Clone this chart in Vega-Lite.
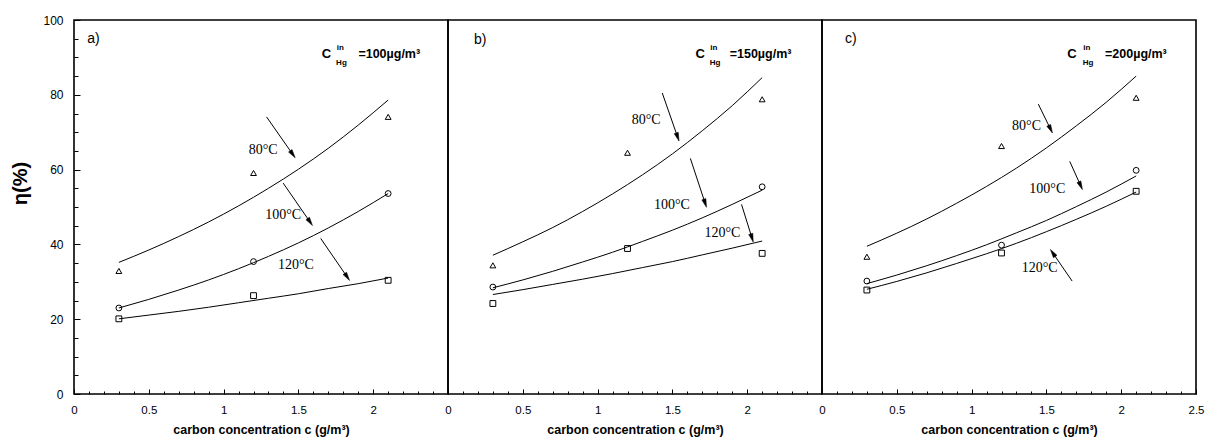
{
  "$schema": "https://vega.github.io/schema/vega-lite/v6.json",
  "background": "white",
  "padding": {"left": 9, "top": 13, "right": 0, "bottom": 0},
  "config": {
    "view": {"stroke": "black", "strokeWidth": 1.6},
    "concat": {"spacing": 0},
    "axis": {"grid": false, "domain": false, "tickColor": "black", "labelColor": "black", "titleColor": "black", "labelFont": "Liberation Sans", "titleFont": "Liberation Sans", "labelOverlap": false, "labelBound": false, "labelFlush": false}
  },
  "datasets": {
    "curves": [
      {"panel":"a","temp":"80°C","x":0.3,"y":35.2},{"panel":"a","temp":"80°C","x":0.5,"y":38.5},{"panel":"a","temp":"80°C","x":0.7,"y":42.1},{"panel":"a","temp":"80°C","x":0.9,"y":46.0},{"panel":"a","temp":"80°C","x":1.1,"y":50.3},{"panel":"a","temp":"80°C","x":1.3,"y":55.0},{"panel":"a","temp":"80°C","x":1.5,"y":60.1},{"panel":"a","temp":"80°C","x":1.7,"y":65.7},{"panel":"a","temp":"80°C","x":1.9,"y":71.9},{"panel":"a","temp":"80°C","x":2.1,"y":78.6},
      {"panel":"a","temp":"100°C","x":0.3,"y":23.0},{"panel":"a","temp":"100°C","x":0.5,"y":25.3},{"panel":"a","temp":"100°C","x":0.7,"y":27.8},{"panel":"a","temp":"100°C","x":0.9,"y":30.5},{"panel":"a","temp":"100°C","x":1.1,"y":33.5},{"panel":"a","temp":"100°C","x":1.3,"y":36.8},{"panel":"a","temp":"100°C","x":1.5,"y":40.4},{"panel":"a","temp":"100°C","x":1.7,"y":44.4},{"panel":"a","temp":"100°C","x":1.9,"y":48.8},{"panel":"a","temp":"100°C","x":2.1,"y":53.6},
      {"panel":"a","temp":"120°C","x":0.3,"y":20.1},{"panel":"a","temp":"120°C","x":0.5,"y":21.1},{"panel":"a","temp":"120°C","x":0.7,"y":22.1},{"panel":"a","temp":"120°C","x":0.9,"y":23.2},{"panel":"a","temp":"120°C","x":1.1,"y":24.4},{"panel":"a","temp":"120°C","x":1.3,"y":25.6},{"panel":"a","temp":"120°C","x":1.5,"y":26.8},{"panel":"a","temp":"120°C","x":1.7,"y":28.2},{"panel":"a","temp":"120°C","x":1.9,"y":29.5},{"panel":"a","temp":"120°C","x":2.1,"y":31.0},
      {"panel":"b","temp":"80°C","x":0.3,"y":37.1},{"panel":"b","temp":"80°C","x":0.5,"y":40.7},{"panel":"b","temp":"80°C","x":0.7,"y":44.5},{"panel":"b","temp":"80°C","x":0.9,"y":48.8},{"panel":"b","temp":"80°C","x":1.1,"y":53.5},{"panel":"b","temp":"80°C","x":1.3,"y":58.6},{"panel":"b","temp":"80°C","x":1.5,"y":64.2},{"panel":"b","temp":"80°C","x":1.7,"y":70.4},{"panel":"b","temp":"80°C","x":1.9,"y":77.1},{"panel":"b","temp":"80°C","x":2.1,"y":84.6},
      {"panel":"b","temp":"100°C","x":0.3,"y":28.4},{"panel":"b","temp":"100°C","x":0.5,"y":30.5},{"panel":"b","temp":"100°C","x":0.7,"y":32.8},{"panel":"b","temp":"100°C","x":0.9,"y":35.3},{"panel":"b","temp":"100°C","x":1.1,"y":37.9},{"panel":"b","temp":"100°C","x":1.3,"y":40.8},{"panel":"b","temp":"100°C","x":1.5,"y":43.8},{"panel":"b","temp":"100°C","x":1.7,"y":47.1},{"panel":"b","temp":"100°C","x":1.9,"y":50.7},{"panel":"b","temp":"100°C","x":2.1,"y":54.5},
      {"panel":"b","temp":"120°C","x":0.3,"y":26.6},{"panel":"b","temp":"120°C","x":0.5,"y":27.9},{"panel":"b","temp":"120°C","x":0.7,"y":29.3},{"panel":"b","temp":"120°C","x":0.9,"y":30.7},{"panel":"b","temp":"120°C","x":1.1,"y":32.2},{"panel":"b","temp":"120°C","x":1.3,"y":33.8},{"panel":"b","temp":"120°C","x":1.5,"y":35.4},{"panel":"b","temp":"120°C","x":1.7,"y":37.2},{"panel":"b","temp":"120°C","x":1.9,"y":39.0},{"panel":"b","temp":"120°C","x":2.1,"y":40.9},
      {"panel":"c","temp":"80°C","x":0.3,"y":39.5},{"panel":"c","temp":"80°C","x":0.5,"y":43.0},{"panel":"c","temp":"80°C","x":0.7,"y":46.8},{"panel":"c","temp":"80°C","x":0.9,"y":51.0},{"panel":"c","temp":"80°C","x":1.1,"y":55.5},{"panel":"c","temp":"80°C","x":1.3,"y":60.4},{"panel":"c","temp":"80°C","x":1.5,"y":65.8},{"panel":"c","temp":"80°C","x":1.7,"y":71.7},{"panel":"c","temp":"80°C","x":1.9,"y":78.0},{"panel":"c","temp":"80°C","x":2.1,"y":85.0},
      {"panel":"c","temp":"100°C","x":0.3,"y":29.5},{"panel":"c","temp":"100°C","x":0.5,"y":31.8},{"panel":"c","temp":"100°C","x":0.7,"y":34.3},{"panel":"c","temp":"100°C","x":0.9,"y":37.0},{"panel":"c","temp":"100°C","x":1.1,"y":39.9},{"panel":"c","temp":"100°C","x":1.3,"y":43.1},{"panel":"c","temp":"100°C","x":1.5,"y":46.4},{"panel":"c","temp":"100°C","x":1.7,"y":50.1},{"panel":"c","temp":"100°C","x":1.9,"y":54.0},{"panel":"c","temp":"100°C","x":2.1,"y":58.3},
      {"panel":"c","temp":"120°C","x":0.3,"y":28.0},{"panel":"c","temp":"120°C","x":0.5,"y":30.1},{"panel":"c","temp":"120°C","x":0.7,"y":32.4},{"panel":"c","temp":"120°C","x":0.9,"y":34.9},{"panel":"c","temp":"120°C","x":1.1,"y":37.5},{"panel":"c","temp":"120°C","x":1.3,"y":40.3},{"panel":"c","temp":"120°C","x":1.5,"y":43.4},{"panel":"c","temp":"120°C","x":1.7,"y":46.7},{"panel":"c","temp":"120°C","x":1.9,"y":50.2},{"panel":"c","temp":"120°C","x":2.1,"y":54.0}
    ],
    "pts": [
      {"panel":"a","temp":"80°C","x":0.3,"y":32.9},{"panel":"a","temp":"80°C","x":1.2,"y":59.1},{"panel":"a","temp":"80°C","x":2.1,"y":74.1},
      {"panel":"a","temp":"100°C","x":0.3,"y":23.0},{"panel":"a","temp":"100°C","x":1.2,"y":35.4},{"panel":"a","temp":"100°C","x":2.1,"y":53.6},
      {"panel":"a","temp":"120°C","x":0.3,"y":20.1},{"panel":"a","temp":"120°C","x":1.2,"y":26.3},{"panel":"a","temp":"120°C","x":2.1,"y":30.4},
      {"panel":"b","temp":"80°C","x":0.3,"y":34.4},{"panel":"b","temp":"80°C","x":1.2,"y":64.5},{"panel":"b","temp":"80°C","x":2.1,"y":78.8},
      {"panel":"b","temp":"100°C","x":0.3,"y":28.6},{"panel":"b","temp":"100°C","x":2.1,"y":55.4},
      {"panel":"b","temp":"120°C","x":0.3,"y":24.2},{"panel":"b","temp":"120°C","x":1.2,"y":38.9},{"panel":"b","temp":"120°C","x":2.1,"y":37.6},
      {"panel":"c","temp":"80°C","x":0.3,"y":36.7},{"panel":"c","temp":"80°C","x":1.2,"y":66.3},{"panel":"c","temp":"80°C","x":2.1,"y":79.2},
      {"panel":"c","temp":"100°C","x":0.3,"y":30.2},{"panel":"c","temp":"100°C","x":1.2,"y":39.8},{"panel":"c","temp":"100°C","x":2.1,"y":59.8},
      {"panel":"c","temp":"120°C","x":0.3,"y":27.8},{"panel":"c","temp":"120°C","x":1.2,"y":37.7},{"panel":"c","temp":"120°C","x":2.1,"y":54.2}
    ],
    "arrows": [
      {"panel":"a","x":1.287,"y":74.1,"x2":1.462,"y2":64.1},
      {"panel":"a","x":1.398,"y":56.4,"x2":1.578,"y2":46.0},
      {"panel":"a","x":1.649,"y":41.6,"x2":1.826,"y2":31.3},
      {"panel":"b","x":1.432,"y":80.5,"x2":1.535,"y2":68.7},
      {"panel":"b","x":1.620,"y":63.0,"x2":1.719,"y2":51.0},
      {"panel":"b","x":1.962,"y":50.7,"x2":2.032,"y2":41.7},
      {"panel":"c","x":1.446,"y":77.5,"x2":1.528,"y2":70.8},
      {"panel":"c","x":1.656,"y":62.2,"x2":1.729,"y2":55.7},
      {"panel":"c","x":1.672,"y":30.2,"x2":1.543,"y2":37.7}
    ],
    "heads": [
      {"panel":"a","x":1.462,"y":64.1,"angle":145},
      {"panel":"a","x":1.578,"y":46.0,"angle":146},
      {"panel":"a","x":1.826,"y":31.3,"angle":146},
      {"panel":"b","x":1.535,"y":68.7,"angle":161},
      {"panel":"b","x":1.719,"y":51.0,"angle":162},
      {"panel":"b","x":2.032,"y":41.7,"angle":163},
      {"panel":"c","x":1.528,"y":70.8,"angle":154},
      {"panel":"c","x":1.729,"y":55.7,"angle":156},
      {"panel":"c","x":1.543,"y":37.7,"angle":326}
    ],
    "temps": [
      {"panel":"a","x":1.264,"y":65.2,"text":"80°C"},{"panel":"a","x":1.398,"y":47.8,"text":"100°C"},{"panel":"a","x":1.483,"y":34.6,"text":"120°C"},
      {"panel":"b","x":1.325,"y":73.2,"text":"80°C"},{"panel":"b","x":1.497,"y":50.5,"text":"100°C"},{"panel":"b","x":1.834,"y":43.1,"text":"120°C"},
      {"panel":"c","x":1.367,"y":71.6,"text":"80°C"},{"panel":"c","x":1.506,"y":54.7,"text":"100°C"},{"panel":"c","x":1.455,"y":33.6,"text":"120°C"}
    ],
    "notes": [
      {"panel":"a","x":1.656,"y":90.8,"text":"C","kind":"main"},{"panel":"a","x":1.756,"y":92.6,"text":"in","kind":"small"},{"panel":"a","x":1.752,"y":88.5,"text":"Hg","kind":"small"},{"panel":"a","x":1.901,"y":90.8,"text":"=100µg/m³","kind":"conc"},
      {"panel":"b","x":1.655,"y":90.8,"text":"C","kind":"main"},{"panel":"b","x":1.753,"y":92.6,"text":"in","kind":"small"},{"panel":"b","x":1.749,"y":88.5,"text":"Hg","kind":"small"},{"panel":"b","x":1.883,"y":90.8,"text":"=150µg/m³","kind":"conc"},
      {"panel":"c","x":1.640,"y":90.8,"text":"C","kind":"main"},{"panel":"c","x":1.747,"y":92.6,"text":"in","kind":"small"},{"panel":"c","x":1.743,"y":88.5,"text":"Hg","kind":"small"},{"panel":"c","x":1.892,"y":90.8,"text":"=200µg/m³","kind":"conc"}
    ],
    "letters": [
      {"panel":"a","x":0.089,"y":94.8,"text":"a)"},
      {"panel":"b","x":0.174,"y":94.6,"text":"b)"},
      {"panel":"c","x":0.154,"y":94.8,"text":"c)"}
    ]
  },
  "bounds": "flush",
  "spacing": 0,
  "hconcat": [
    {
      "width": 374, "height": 374,
      "encoding": {
        "x": {"field": "x", "type": "quantitative", "scale": {"domain": [0, 2.5], "nice": false, "zero": false},
          "axis": {"values": [0,0.1,0.2,0.3,0.4,0.5,0.6,0.7,0.8,0.9,1,1.1,1.2,1.3,1.4,1.5,1.6,1.7,1.8,1.9,2,2.1,2.2,2.3,2.4],
            "labelExpr": "abs(datum.value*2-round(datum.value*2))<0.01 ? format(datum.value,'~g') : ''",
            "tickSize": {"condition": {"test": "abs(datum.value*2-round(datum.value*2))<0.01", "value": -5}, "value": -3},
            "labelFontSize": 11.5, "labelPadding": 15,
            "title": "carbon concentration c  (g/m³)", "titleFontSize": 12.5, "titleFontWeight": "bold", "titlePadding": 6}},
        "y": {"field": "y", "type": "quantitative", "scale": {"domain": [0, 100], "nice": false, "zero": false},
          "axis": {"values": [0,5,10,15,20,25,30,35,40,45,50,55,60,65,70,75,80,85,90,95,100],
            "labelExpr": "datum.value % 20 === 0 ? format(datum.value,'d') : ''",
            "tickSize": {"condition": {"test": "datum.value % 20 === 0", "value": -6}, "value": -4},
            "labelFontSize": 12, "labelPadding": 17,
            "title": "η(%)", "titleFontSize": 20, "titleFontWeight": "bold", "titleX": -54, "titleY": 163, "titleBaseline": "middle", "titleAlign": "center"}}
      },
      "layer": [
        {"data": {"name": "curves"}, "transform": [{"filter": "datum.panel === 'a'"}], "mark": {"type": "line", "color": "black", "strokeWidth": 1, "interpolate": "monotone"}, "encoding": {"detail": {"field": "temp"}}},
        {"data": {"name": "pts"}, "transform": [{"filter": "datum.panel === 'a'"}], "mark": {"type": "point", "filled": false, "color": "black", "strokeWidth": 1, "size": 34, "opacity": 1}, "encoding": {"shape": {"field": "temp", "type": "nominal", "scale": {"domain": ["80°C","100°C","120°C"], "range": ["triangle-up","circle","square"]}, "legend": null}}},
        {"data": {"name": "arrows"}, "transform": [{"filter": "datum.panel === 'a'"}], "mark": {"type": "rule", "color": "black", "strokeWidth": 1}, "encoding": {"x2": {"field": "x2"}, "y2": {"field": "y2"}}},
        {"data": {"name": "heads"}, "transform": [{"filter": "datum.panel === 'a'"}], "mark": {"type": "point", "shape": "M0,-1L0.5,1L-0.5,1Z", "fill": "black", "fillOpacity": 1, "stroke": "black", "strokeWidth": 0.5, "size": 72, "opacity": 1}, "encoding": {"angle": {"field": "angle", "type": "quantitative", "scale": null}}},
        {"data": {"name": "temps"}, "transform": [{"filter": "datum.panel === 'a'"}], "mark": {"type": "text", "font": "Liberation Serif", "fontSize": 14, "align": "center", "baseline": "middle", "color": "black"}, "encoding": {"text": {"field": "text"}}},
        {"data": {"name": "notes"}, "transform": [{"filter": "datum.panel === 'a' && datum.kind === 'main'"}], "mark": {"type": "text", "font": "Liberation Sans", "fontWeight": "bold", "fontSize": 13, "align": "left", "baseline": "middle", "color": "black"}, "encoding": {"text": {"field": "text"}}},
        {"data": {"name": "notes"}, "transform": [{"filter": "datum.panel === 'a' && datum.kind === 'small'"}], "mark": {"type": "text", "font": "Liberation Sans", "fontWeight": "bold", "fontSize": 8, "align": "left", "baseline": "middle", "color": "black"}, "encoding": {"text": {"field": "text"}}},
        {"data": {"name": "notes"}, "transform": [{"filter": "datum.panel === 'a' && datum.kind === 'conc'"}], "mark": {"type": "text", "font": "Liberation Sans", "fontWeight": "bold", "fontSize": 12.5, "align": "left", "baseline": "middle", "color": "black"}, "encoding": {"text": {"field": "text"}}},
        {"data": {"name": "letters"}, "transform": [{"filter": "datum.panel === 'a'"}], "mark": {"type": "text", "font": "Liberation Sans", "fontSize": 14, "align": "left", "baseline": "middle", "color": "black"}, "encoding": {"text": {"field": "text"}}}
      ]
    },
    {
      "width": 374, "height": 374,
      "encoding": {
        "x": {"field": "x", "type": "quantitative", "scale": {"domain": [0, 2.5], "nice": false, "zero": false},
          "axis": {"values": [0,0.1,0.2,0.3,0.4,0.5,0.6,0.7,0.8,0.9,1,1.1,1.2,1.3,1.4,1.5,1.6,1.7,1.8,1.9,2,2.1,2.2,2.3,2.4],
            "labelExpr": "abs(datum.value*2-round(datum.value*2))<0.01 ? format(datum.value,'~g') : ''",
            "tickSize": {"condition": {"test": "abs(datum.value*2-round(datum.value*2))<0.01", "value": -5}, "value": -3},
            "labelFontSize": 11.5, "labelPadding": 15,
            "title": "carbon concentration c  (g/m³)", "titleFontSize": 12.5, "titleFontWeight": "bold", "titlePadding": 6}},
        "y": {"field": "y", "type": "quantitative", "scale": {"domain": [0, 100], "nice": false, "zero": false}, "axis": null}
      },
      "layer": [
        {"data": {"name": "curves"}, "transform": [{"filter": "datum.panel === 'b'"}], "mark": {"type": "line", "color": "black", "strokeWidth": 1, "interpolate": "monotone"}, "encoding": {"detail": {"field": "temp"}}},
        {"data": {"name": "pts"}, "transform": [{"filter": "datum.panel === 'b'"}], "mark": {"type": "point", "filled": false, "color": "black", "strokeWidth": 1, "size": 34, "opacity": 1}, "encoding": {"shape": {"field": "temp", "type": "nominal", "scale": {"domain": ["80°C","100°C","120°C"], "range": ["triangle-up","circle","square"]}, "legend": null}}},
        {"data": {"name": "arrows"}, "transform": [{"filter": "datum.panel === 'b'"}], "mark": {"type": "rule", "color": "black", "strokeWidth": 1}, "encoding": {"x2": {"field": "x2"}, "y2": {"field": "y2"}}},
        {"data": {"name": "heads"}, "transform": [{"filter": "datum.panel === 'b'"}], "mark": {"type": "point", "shape": "M0,-1L0.5,1L-0.5,1Z", "fill": "black", "fillOpacity": 1, "stroke": "black", "strokeWidth": 0.5, "size": 72, "opacity": 1}, "encoding": {"angle": {"field": "angle", "type": "quantitative", "scale": null}}},
        {"data": {"name": "temps"}, "transform": [{"filter": "datum.panel === 'b'"}], "mark": {"type": "text", "font": "Liberation Serif", "fontSize": 14, "align": "center", "baseline": "middle", "color": "black"}, "encoding": {"text": {"field": "text"}}},
        {"data": {"name": "notes"}, "transform": [{"filter": "datum.panel === 'b' && datum.kind === 'main'"}], "mark": {"type": "text", "font": "Liberation Sans", "fontWeight": "bold", "fontSize": 13, "align": "left", "baseline": "middle", "color": "black"}, "encoding": {"text": {"field": "text"}}},
        {"data": {"name": "notes"}, "transform": [{"filter": "datum.panel === 'b' && datum.kind === 'small'"}], "mark": {"type": "text", "font": "Liberation Sans", "fontWeight": "bold", "fontSize": 8, "align": "left", "baseline": "middle", "color": "black"}, "encoding": {"text": {"field": "text"}}},
        {"data": {"name": "notes"}, "transform": [{"filter": "datum.panel === 'b' && datum.kind === 'conc'"}], "mark": {"type": "text", "font": "Liberation Sans", "fontWeight": "bold", "fontSize": 12.5, "align": "left", "baseline": "middle", "color": "black"}, "encoding": {"text": {"field": "text"}}},
        {"data": {"name": "letters"}, "transform": [{"filter": "datum.panel === 'b'"}], "mark": {"type": "text", "font": "Liberation Sans", "fontSize": 14, "align": "left", "baseline": "middle", "color": "black"}, "encoding": {"text": {"field": "text"}}}
      ]
    },
    {
      "width": 374, "height": 374,
      "encoding": {
        "x": {"field": "x", "type": "quantitative", "scale": {"domain": [0, 2.5], "nice": false, "zero": false},
          "axis": {"values": [0,0.1,0.2,0.3,0.4,0.5,0.6,0.7,0.8,0.9,1,1.1,1.2,1.3,1.4,1.5,1.6,1.7,1.8,1.9,2,2.1,2.2,2.3,2.4,2.5],
            "labelExpr": "abs(datum.value*2-round(datum.value*2))<0.01 ? format(datum.value,'~g') : ''",
            "tickSize": {"condition": {"test": "abs(datum.value*2-round(datum.value*2))<0.01", "value": -5}, "value": -3},
            "labelFontSize": 11.5, "labelPadding": 15,
            "title": "carbon concentration c  (g/m³)", "titleFontSize": 12.5, "titleFontWeight": "bold", "titlePadding": 6}},
        "y": {"field": "y", "type": "quantitative", "scale": {"domain": [0, 100], "nice": false, "zero": false}, "axis": null}
      },
      "layer": [
        {"data": {"name": "curves"}, "transform": [{"filter": "datum.panel === 'c'"}], "mark": {"type": "line", "color": "black", "strokeWidth": 1, "interpolate": "monotone"}, "encoding": {"detail": {"field": "temp"}}},
        {"data": {"name": "pts"}, "transform": [{"filter": "datum.panel === 'c'"}], "mark": {"type": "point", "filled": false, "color": "black", "strokeWidth": 1, "size": 34, "opacity": 1}, "encoding": {"shape": {"field": "temp", "type": "nominal", "scale": {"domain": ["80°C","100°C","120°C"], "range": ["triangle-up","circle","square"]}, "legend": null}}},
        {"data": {"name": "arrows"}, "transform": [{"filter": "datum.panel === 'c'"}], "mark": {"type": "rule", "color": "black", "strokeWidth": 1}, "encoding": {"x2": {"field": "x2"}, "y2": {"field": "y2"}}},
        {"data": {"name": "heads"}, "transform": [{"filter": "datum.panel === 'c'"}], "mark": {"type": "point", "shape": "M0,-1L0.5,1L-0.5,1Z", "fill": "black", "fillOpacity": 1, "stroke": "black", "strokeWidth": 0.5, "size": 72, "opacity": 1}, "encoding": {"angle": {"field": "angle", "type": "quantitative", "scale": null}}},
        {"data": {"name": "temps"}, "transform": [{"filter": "datum.panel === 'c'"}], "mark": {"type": "text", "font": "Liberation Serif", "fontSize": 14, "align": "center", "baseline": "middle", "color": "black"}, "encoding": {"text": {"field": "text"}}},
        {"data": {"name": "notes"}, "transform": [{"filter": "datum.panel === 'c' && datum.kind === 'main'"}], "mark": {"type": "text", "font": "Liberation Sans", "fontWeight": "bold", "fontSize": 13, "align": "left", "baseline": "middle", "color": "black"}, "encoding": {"text": {"field": "text"}}},
        {"data": {"name": "notes"}, "transform": [{"filter": "datum.panel === 'c' && datum.kind === 'small'"}], "mark": {"type": "text", "font": "Liberation Sans", "fontWeight": "bold", "fontSize": 8, "align": "left", "baseline": "middle", "color": "black"}, "encoding": {"text": {"field": "text"}}},
        {"data": {"name": "notes"}, "transform": [{"filter": "datum.panel === 'c' && datum.kind === 'conc'"}], "mark": {"type": "text", "font": "Liberation Sans", "fontWeight": "bold", "fontSize": 12.5, "align": "left", "baseline": "middle", "color": "black"}, "encoding": {"text": {"field": "text"}}},
        {"data": {"name": "letters"}, "transform": [{"filter": "datum.panel === 'c'"}], "mark": {"type": "text", "font": "Liberation Sans", "fontSize": 14, "align": "left", "baseline": "middle", "color": "black"}, "encoding": {"text": {"field": "text"}}}
      ]
    }
  ]
}
